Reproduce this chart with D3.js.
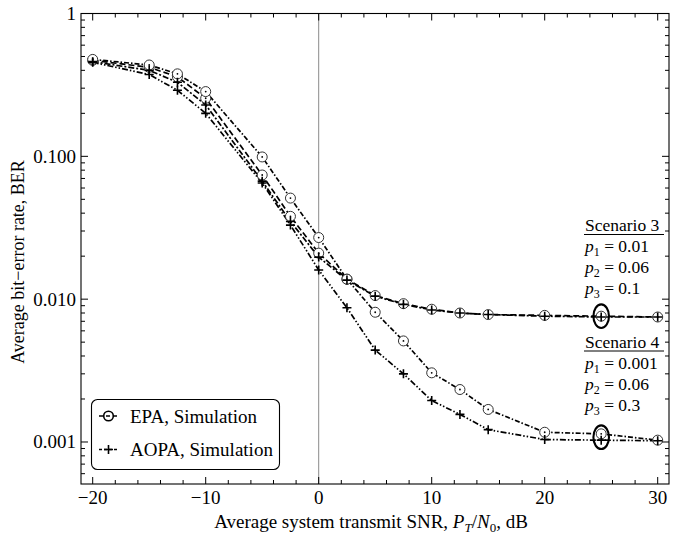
<!DOCTYPE html>
<html>
<head>
<meta charset="utf-8">
<script src="https://cdn.jsdelivr.net/npm/d3@7"></script>
<style>
  body { margin: 0; background: #fff; }
  svg { display: block; font-family: "Liberation Serif", "DejaVu Serif", serif; }
</style>
</head>
<body>
<svg id="chart"></svg>
<script>
// --- data ---
var snr = [-20, -15, -12.5, -10, -5, -2.5, 0, 2.5, 5, 7.5, 10, 12.5, 15, 20, 25, 30]
var epaS3  = [0.47, 0.42, 0.36, 0.255, 0.074, 0.038, 0.021, 0.0138, 0.0106, 0.0093, 0.0085, 0.0080, 0.0078, 0.0077, 0.0076, 0.0075]
var aopaS3 = [0.46, 0.40, 0.33, 0.229, 0.067, 0.035, 0.0197, 0.0136, 0.0105, 0.0092, 0.0084, 0.0080, 0.0078, 0.0076, 0.0075, 0.0075]
var epaS4  = [0.477, 0.436, 0.378, 0.284, 0.099, 0.051, 0.027, 0.0138, 0.0081, 0.0051, 0.00305, 0.00233, 0.00169, 0.00117, 0.00114, 0.00103]
var aopaS4 = [0.455, 0.374, 0.29, 0.2, 0.065, 0.033, 0.016, 0.0087, 0.0044, 0.0030, 0.00195, 0.00156, 0.00122, 0.00104, 0.00103, 0.00102]

var xTicks = [-20, -10, 0, 10, 20, 30]
var yTicks = [1, 0.1, 0.01, 0.001]
var yTickLabels = ["1", "0.100", "0.010", "0.001"]
var highlights = [{x: 25, ber: 0.0076}, {x: 25, ber: 0.00108}]
var legendNames = ["EPA, Simulation", "AOPA, Simulation"]

var screen = {width: 681, height: 535}
var margins = {top: 13.5, right: 12, bottom: 51, left: 81}
var width = screen.width - margins.left - margins.right
var height = screen.height - margins.top - margins.bottom
var fs = 19

var svg = d3.select("#chart").attr("width", screen.width).attr("height", screen.height)

var xScale = d3.scaleLinear().domain([-21.035, 31.0]).range([0, width])
var yScale = d3.scaleLog().domain([0.000508, 1]).range([height, 0])

var g = svg.append("g").attr("transform", "translate(" + margins.left + "," + margins.top + ")")

// vertical reference line at 0 dB
g.append("line")
    .attr("x1", xScale(0)).attr("x2", xScale(0))
    .attr("y1", 0).attr("y2", height)
    .attr("stroke", "#8a8a8a").attr("stroke-width", 1)

// frame
g.append("rect").attr("width", width).attr("height", height)
    .attr("fill", "none").attr("stroke", "#000").attr("stroke-width", 1.1)

// ticks (inward, all four sides)
var xMinor = d3.range(-20, 31, 2).filter(function(v){ return xTicks.indexOf(v) < 0 })
var yMinor = []
;[0.0001, 0.001, 0.01, 0.1].forEach(function(dec){
    for (var k = 2; k <= 9; k++) {
        var v = dec * k
        if (v >= 0.000508 && v < 1) yMinor.push(v)
    }
})

function tickSet(vals, len) {
    vals.forEach(function(v){
        var x = xScale(v)
        g.append("line").attr("x1", x).attr("x2", x).attr("y1", height).attr("y2", height - len).attr("stroke", "#000")
        g.append("line").attr("x1", x).attr("x2", x).attr("y1", 0).attr("y2", len).attr("stroke", "#000")
    })
}
function yTickSet(vals, len) {
    vals.forEach(function(v){
        var y = yScale(v)
        g.append("line").attr("x1", 0).attr("x2", len).attr("y1", y).attr("y2", y).attr("stroke", "#000")
        g.append("line").attr("x1", width).attr("x2", width - len).attr("y1", y).attr("y2", y).attr("stroke", "#000")
    })
}
tickSet(xTicks, 7)
tickSet(xMinor, 4)
yTickSet(yTicks, 7)
yTickSet(yMinor, 4)

// tick labels
g.selectAll(".xlab").data(xTicks).enter().append("text")
    .attr("x", function(d){ return xScale(d) })
    .attr("y", height + 20)
    .attr("text-anchor", "middle")
    .attr("font-size", fs)
    .text(function(d){ return d < 0 ? "\u2212" + Math.abs(d) : d })

g.selectAll(".ylab").data(yTicks).enter().append("text")
    .attr("x", -5)
    .attr("y", function(d){ return yScale(d) + 6.5 })
    .attr("text-anchor", "end")
    .attr("font-size", fs)
    .text(function(d, i){ return yTickLabels[i] })

// axis titles
var xt = svg.append("text")
    .attr("x", margins.left + width / 2 - 4)
    .attr("y", 528)
    .attr("text-anchor", "middle")
    .attr("font-size", fs)
xt.append("tspan").text("Average system transmit SNR, ")
xt.append("tspan").attr("font-style", "italic").text("P")
xt.append("tspan").attr("font-style", "italic").attr("font-size", 13).attr("dy", 4).text("T")
xt.append("tspan").attr("dy", -4).text("/")
xt.append("tspan").attr("font-style", "italic").text("N")
xt.append("tspan").attr("font-size", 13).attr("dy", 4).text("0")
xt.append("tspan").attr("dy", -4).text(", dB")

svg.append("text")
    .attr("transform", "translate(24," + 262 + ") rotate(-90)")
    .attr("text-anchor", "middle")
    .attr("font-size", 18)
    .text("Average bit\u2212error rate, BER")

// series
var series = [
    {vals: epaS3, marker: "circle", dash: "6,3"},
    {vals: aopaS3, marker: "plus", dash: "6,2,2,2"},
    {vals: epaS4, marker: "circle", dash: "5,2,1.5,2"},
    {vals: aopaS4, marker: "plus", dash: "6,2,1.5,2,1.5,2"}
]

var line = d3.line()
    .x(function(d){ return xScale(d.x) })
    .y(function(d){ return yScale(d.y) })

series.forEach(function(s){
    s.points = snr.map(function(x, i){ return {x: x, y: s.vals[i]} })
    g.append("path").datum(s.points)
        .attr("d", line)
        .attr("fill", "none")
        .attr("stroke", "#000")
        .attr("stroke-width", 1.7)
        .attr("stroke-dasharray", s.dash)
})

function drawCircle(sel, x, y) {
    sel.append("circle").attr("cx", x).attr("cy", y).attr("r", 5)
        .attr("fill", "#fff").attr("stroke", "#333").attr("stroke-width", 1)
    sel.append("circle").attr("cx", x).attr("cy", y).attr("r", 0.9).attr("fill", "#000")
}
function drawPlus(sel, x, y) {
    sel.append("path")
        .attr("d", "M" + (x - 4.5) + "," + y + "H" + (x + 4.5) + "M" + x + "," + (y - 4.5) + "V" + (y + 4.5))
        .attr("stroke", "#000").attr("stroke-width", 1.6)
}

series.filter(function(s){ return s.marker == "circle" }).forEach(function(s){
    s.points.forEach(function(p){ drawCircle(g, xScale(p.x), yScale(p.y)) })
})
series.filter(function(s){ return s.marker == "plus" }).forEach(function(s){
    s.points.forEach(function(p){ drawPlus(g, xScale(p.x), yScale(p.y)) })
})

// highlight ellipses at 25 dB
g.selectAll(".hl").data(highlights).enter().append("ellipse")
    .attr("cx", function(d){ return xScale(d.x) })
    .attr("cy", function(d){ return yScale(d.ber) })
    .attr("rx", 7.8).attr("ry", 11.8)
    .attr("fill", "none").attr("stroke", "#000").attr("stroke-width", 2.1)

// scenario annotations
function scenario(title, rows, x, y0) {
    svg.append("text").attr("x", x).attr("y", y0).attr("font-size", 17.5).text(title)
    svg.append("line").attr("x1", x - 1).attr("x2", x + 79).attr("y1", y0 + 3.5).attr("y2", y0 + 3.5)
        .attr("stroke", "#000").attr("stroke-width", 1)
    rows.forEach(function(r, i){
        var t = svg.append("text").attr("x", x).attr("y", y0 + 21 + i * 21).attr("font-size", 17.5)
        t.append("tspan").attr("font-style", "italic").text("p")
        t.append("tspan").attr("font-size", 12).attr("dy", 4).text(r[0])
        t.append("tspan").attr("dy", -4).text(" = " + r[1])
    })
}
scenario("Scenario 3", [["1", "0.01"], ["2", "0.06"], ["3", "0.1"]], 585, 231)
scenario("Scenario 4", [["1", "0.001"], ["2", "0.06"], ["3", "0.3"]], 585, 347.5)

// legend
var legend = svg.append("g")
legend.append("rect")
    .attr("x", 91.5).attr("y", 399.5).attr("width", 188).attr("height", 70)
    .attr("rx", 6).attr("fill", "#fff").attr("stroke", "#000").attr("stroke-width", 1.1)

legendNames.forEach(function(name, i){
    var cy = 416 + i * 33.5
    legend.append("line").attr("x1", 99).attr("x2", 118).attr("y1", cy).attr("y2", cy)
        .attr("stroke", "#000").attr("stroke-width", 1.7).attr("stroke-dasharray", i == 0 ? "4,3" : "3,2")
    if (i == 0) {
        legend.append("circle").attr("cx", 108.5).attr("cy", cy).attr("r", 4.8)
            .attr("fill", "none").attr("stroke", "#000").attr("stroke-width", 1.6)
    } else {
        drawPlus(legend, 108.5, cy)
    }
    legend.append("text").attr("x", 130).attr("y", cy + 6.5).attr("font-size", fs).text(name)
})
</script>
</body>
</html>
